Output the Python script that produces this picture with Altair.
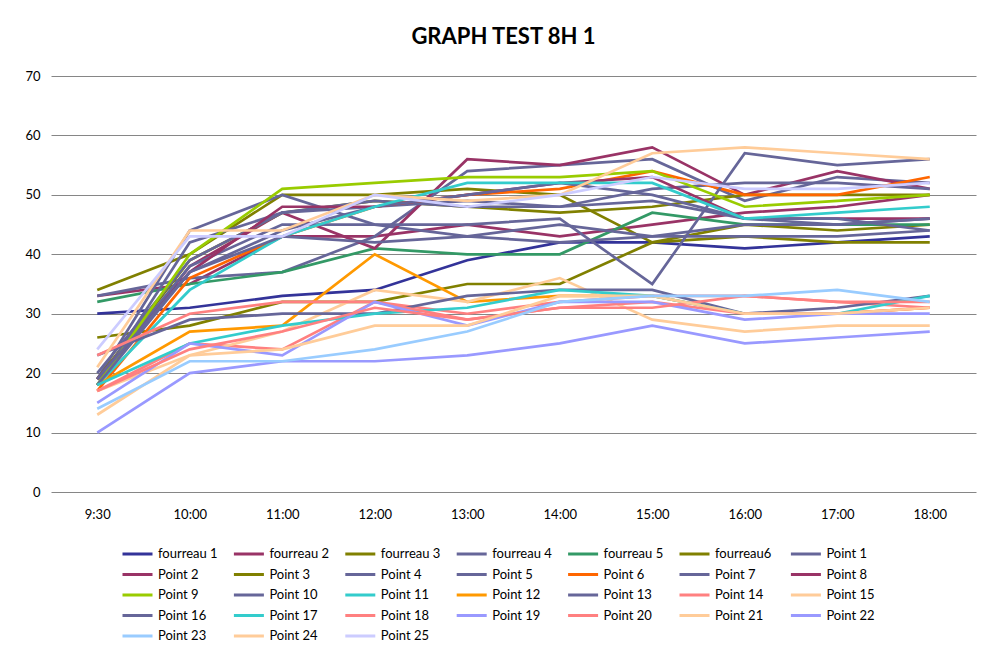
import altair as alt
import pandas as pd

times = ["9:30", "10:00", "11:00", "12:00", "13:00", "14:00", "15:00", "16:00", "17:00", "18:00"]

series_names = [
    "fourreau 1", "fourreau 2", "fourreau 3", "fourreau 4", "fourreau 5", "fourreau6",
    "Point 1", "Point 2", "Point 3", "Point 4", "Point 5", "Point 6", "Point 7", "Point 8",
    "Point 9", "Point 10", "Point 11", "Point 12", "Point 13", "Point 14", "Point 15",
    "Point 16", "Point 17", "Point 18", "Point 19", "Point 20", "Point 21", "Point 22",
    "Point 23", "Point 24", "Point 25",
]

colors = [
    "#333399", "#993366", "#808000", "#666699", "#339966", "#808000",
    "#666699", "#993366", "#808000", "#666699", "#666699", "#FF6600", "#666699", "#993366",
    "#99CC00", "#666699", "#33CCCC", "#FF9900", "#666699", "#FF8080", "#FFCC99",
    "#666699", "#33CCCC", "#FF8080", "#9999FF", "#FF8080", "#FFCC99", "#9999FF",
    "#99CCFF", "#FFCC99", "#CCCCFF",
]

fourreau1 = [30, 31, 33, 34, 39, 42, 42, 41, 42, 43]
fourreau2 = [33, 35, 43, 43, 45, 43, 45, 47, 48, 50]
fourreau3 = [34, 40, 50, 50, 51, 50, 42, 45, 44, 45]
fourreau4 = [33, 36, 37, 43, 54, 55, 56, 49, 53, 52]
fourreau5 = [32, 35, 37, 41, 40, 40, 47, 45, 45, 45]
fourreau6 = [26, 28, 32, 32, 35, 35, 42, 43, 42, 42]
point1 = [19, 44, 50, 45, 43, 45, 43, 43, 43, 44]
point2 = [18, 38, 47, 41, 56, 55, 58, 50, 54, 51]
point3 = [19, 39, 47, 49, 48, 47, 48, 50, 50, 50]
point4 = [18, 42, 47, 49, 48, 48, 49, 46, 45, 46]
point5 = [20, 39, 47, 48, 49, 48, 51, 52, 52, 51]
point6 = [17, 36, 43, 48, 50, 51, 54, 50, 50, 53]
point7 = [19, 38, 45, 45, 45, 46, 35, 57, 55, 56]
point8 = [19, 37, 48, 48, 50, 52, 53, 46, 46, 46]
point9 = [18, 40, 51, 52, 53, 53, 54, 48, 49, 50]
point10 = [19, 37, 44, 48, 50, 52, 50, 46, 46, 44]
point11 = [18, 34, 43, 48, 52, 52, 52, 46, 47, 48]
point12 = [18, 27, 28, 40, 32, 33, 33, 30, 30, 31]
point13 = [18, 37, 43, 42, 43, 42, 43, 45, 45, 46]
point14 = [17, 25, 24, 32, 30, 32, 33, 33, 32, 31]
point15 = [17, 23, 27, 34, 32, 36, 29, 27, 28, 28]
point16 = [23, 29, 30, 30, 33, 34, 34, 30, 31, 33]
point17 = [18, 25, 28, 30, 31, 34, 33, 30, 30, 33]
point18 = [23, 30, 32, 32, 29, 31, 32, 30, 30, 31]
point19 = [15, 25, 23, 32, 28, 32, 32, 29, 30, 30]
point20 = [17, 24, 27, 31, 29, 31, 31, 33, 32, 32]
point21 = [13, 23, 24, 28, 28, 33, 33, 30, 30, 31]
point22 = [10, 20, 22, 22, 23, 25, 28, 25, 26, 27]
point23 = [14, 22, 22, 24, 27, 32, 33, 33, 34, 32]
point24 = [21, 44, 44, 50, 49, 50, 57, 58, 57, 56]
point25 = [24, 43, 43, 50, 48, 50, 53, 51, 51, 52]

all_values = [
    fourreau1, fourreau2, fourreau3, fourreau4, fourreau5, fourreau6,
    point1, point2, point3, point4, point5, point6, point7, point8, point9, point10,
    point11, point12, point13, point14, point15, point16, point17, point18, point19,
    point20, point21, point22, point23, point24, point25,
]

rows = []
for i, (name, vals) in enumerate(zip(series_names, all_values)):
    for t, v in zip(times, vals):
        rows.append({"series": name, "time": t, "value": v, "k": i})
df = pd.DataFrame(rows)

FONT = "Lato"

chart = alt.Chart(df).mark_line(strokeWidth=2.7).encode(
    x=alt.X("time:N", sort=times, title=None,
            axis=alt.Axis(grid=False, ticks=False, domain=False, labelAngle=0,
                          labelPadding=16, labelFontSize=13, labelFont=FONT,
                          labelColor="#000000")),
    y=alt.Y("value:Q", title=None, scale=alt.Scale(domain=[0, 70], nice=False),
            axis=alt.Axis(values=list(range(0, 71, 10)), grid=True, gridColor="#868686",
                          gridWidth=1, ticks=False, domain=False, labelPadding=11,
                          labelFontSize=13, labelFont=FONT, labelColor="#000000")),
    color=alt.Color("series:N", sort=series_names,
                    scale=alt.Scale(domain=series_names, range=colors),
                    legend=alt.Legend(orient="none", legendX=70, legendY=470, columns=7,
                                      direction="horizontal",
                                      title=None, symbolType="stroke", symbolSize=900,
                                      symbolStrokeWidth=3, labelFontSize=13, labelFont=FONT,
                                      labelColor="#000000", columnPadding=14.4, rowPadding=4.5,
                                      clipHeight=16, symbolLimit=0,
                                      gridAlign="all", padding=0, labelLimit=200)),
    order=alt.Order("k:Q"),
).properties(
    width=925,
    height=416,
    autosize=alt.AutoSizeParams(type="none"),
    padding={"left": 43, "top": 68, "right": 10, "bottom": 150},
    title=alt.TitleParams("GRAPH TEST 8H 1", fontSize=22, font=FONT, fontWeight="bold",
                          anchor="middle", offset=21, dx=-10, color="#000000"),
).configure_view(stroke=None)

chart.save("out.html", embed_options={"renderer": "svg", "actions": False})
